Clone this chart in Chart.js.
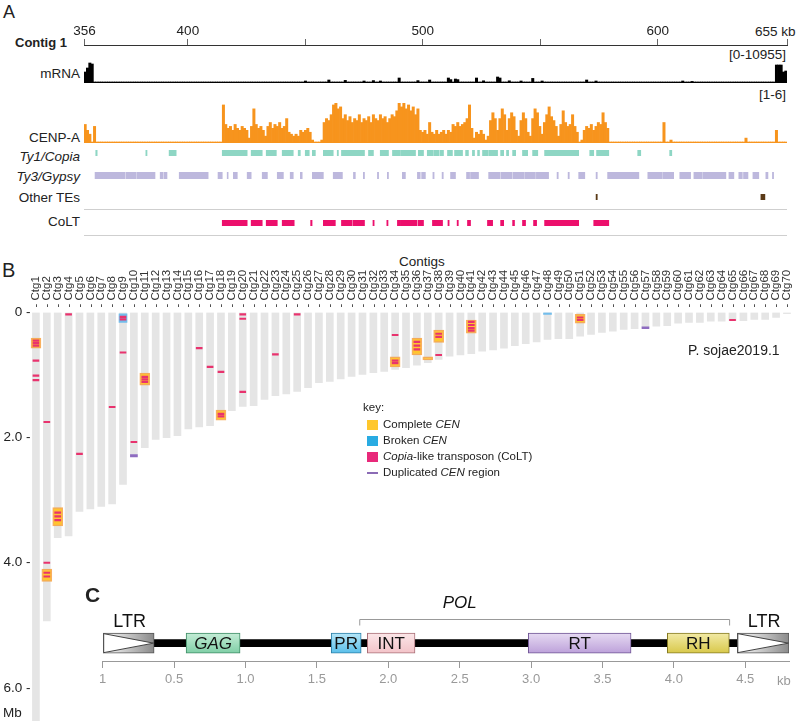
<!DOCTYPE html>
<html>
<head>
<meta charset="utf-8">
<script src="https://cdn.jsdelivr.net/npm/chart.js@4.4.1/dist/chart.umd.min.js"></script>
<style>
body{margin:0;background:#fff;font-family:'Liberation Sans',Arial,sans-serif;color:#222}
#wrap{position:relative;width:800px;height:721px;overflow:hidden}
#wrap canvas{position:absolute}
.t{position:absolute;white-space:nowrap;line-height:1}
.sep{position:absolute;left:84px;width:703px;height:1px;background:#cfcfcf}
.sw{position:absolute;width:11px;height:10px}
</style>
</head>
<body>
<div id="wrap">
  <!-- panel A labels -->
  <div class="t" style="left:3px;top:3px;font-size:18px">A</div>
  <div class="t" style="left:15px;top:36px;font-size:13px;font-weight:bold">Contig 1</div>
  <div class="t" style="left:755px;top:25px;font-size:13.5px">655 kb</div>
  <div class="t" style="right:720px;top:67px;font-size:13.5px">mRNA</div>
  <div class="t" style="right:14px;top:48px;font-size:13.5px">[0-10955]</div>
  <div class="t" style="right:14px;top:88px;font-size:13.5px">[1-6]</div>
  <div class="t" style="right:720px;top:131px;font-size:13.5px">CENP-A</div>
  <div class="t" style="right:720px;top:150px;font-size:13.5px;font-style:italic">Ty1/Copia</div>
  <div class="t" style="right:720px;top:170px;font-size:13.5px;font-style:italic">Ty3/Gypsy</div>
  <div class="t" style="right:720px;top:191px;font-size:13.5px">Other TEs</div>
  <div class="t" style="right:720px;top:215px;font-size:13.5px">CoLT</div>
  <div class="sep" style="top:209px"></div>
  <div class="sep" style="top:235px"></div>

  <canvas id="ruler" width="800" height="32" style="left:0;top:14px"></canvas>
  <canvas id="mrna" width="703" height="21" style="left:84px;top:62px"></canvas>
  <canvas id="cenpa" width="703" height="40" style="left:84px;top:103px"></canvas>
  <canvas id="ty1" width="703" height="6" style="left:84px;top:150px"></canvas>
  <canvas id="ty3" width="703" height="7" style="left:84px;top:172px"></canvas>
  <canvas id="other" width="703" height="6" style="left:84px;top:194px"></canvas>
  <canvas id="colt" width="703" height="6" style="left:84px;top:220px"></canvas>

  <!-- panel B -->
  <div class="t" style="left:2px;top:260px;font-size:20px">B</div>
  <div class="t" style="left:399px;top:255px;font-size:13.5px">Contigs</div>
  <canvas id="contigs" width="800" height="471" style="left:0;top:250px"></canvas>
  <div class="t" style="left:3px;top:706px;font-size:13.5px">Mb</div>
  <div class="t" style="left:688px;top:343px;font-size:14px">P. sojae2019.1</div>

  <div class="t" style="left:363px;top:402px;font-size:11.5px">key:</div>
  <div class="sw" style="left:367px;top:420px;background:#FFC72C"></div>
  <div class="t" style="left:383px;top:419px;font-size:11.5px">Complete <i>CEN</i></div>
  <div class="sw" style="left:367px;top:436px;background:#29ABE2"></div>
  <div class="t" style="left:383px;top:435px;font-size:11.5px">Broken <i>CEN</i></div>
  <div class="sw" style="left:367px;top:452px;background:#E8297A"></div>
  <div class="t" style="left:383px;top:451px;font-size:11.5px"><i>Copia</i>-like transposon (CoLT)</div>
  <div class="sw" style="left:367px;top:472px;height:2px;background:#8B6BB5"></div>
  <div class="t" style="left:383px;top:467px;font-size:11.5px">Duplicated <i>CEN</i> region</div>

  <!-- panel C -->
  <div class="t" style="left:85px;top:584px;font-size:21px;font-weight:bold">C</div>
  <canvas id="tegene" width="800" height="103" style="left:0;top:588px"></canvas>
  <div class="t" style="left:777px;top:674px;font-size:13px;color:#999">kb</div>
</div>

<script>
const FONT = "'Liberation Sans', Arial, sans-serif";

// ---------------- panel A: contig 1 browser view ----------------
const kbStart = 356;
const kbEnd = 655;
const rulerTicks = [356, 400, 450, 500, 550, 600, 655];
const rulerLabels = ['356', '400', '', '500', '', '600', ''];

// mRNA coverage, peaks per kb bin (relative to 10955)
const mrnaPeaks = [
  [356, 0.5], [357, 0.7], [358, 0.95], [359, 0.9],
  [450, 0.05], [460, 0.1], [467, 0.08], [475, 0.05], [479, 0.07], [482, 0.05], [490, 0.2],
  [498, 0.07], [503, 0.1], [511, 0.2], [512, 0.12], [514, 0.15], [515, 0.12],
  [523, 0.2], [526, 0.06], [532, 0.25], [533, 0.2], [537, 0.06], [542, 0.05],
  [547, 0.18], [551, 0.05], [570, 0.1], [574, 0.05], [611, 0.05], [615, 0.03],
  [651, 0.85], [652, 0.85], [653, 0.85], [654, 0.5], [655, 0.55]
];

// CENP-A ChIP coverage, 1 kb bins from 356 to 655 (scale 1-6 -> 0-1)
const cenpa = [
  0.45,0.3,0.2,0,0.4,0,0,0,0,0,
  0,0,0,0,0,0,0,0,0,0,
  0,0,0,0,0,0,0,0,0,0,
  0,0,0,0,0,0,0,0,0,0,
  0,0,0,0,0,0,0,0,0,0,
  0,0,0,0,0,0,0,0,0,0.95,
  0.45,0.35,0.4,0.3,0.45,0.35,0.3,0.4,0.35,0.3,
  0.1,0.4,0.85,0.45,0.35,0.4,0.3,0.15,0.4,0.5,
  0.35,0.45,0.4,0.5,0.35,0.4,0.6,0.25,0.2,0.15,
  0.2,0.15,0.3,0.25,0.3,0.35,0.25,0.05,0,0,
  0,0.05,0.5,0.6,0.55,0.7,0.95,1.0,0.85,0.9,
  0.6,0.7,0.55,0.65,0.5,0.6,0.55,0.7,0.5,0.6,
  0.55,0.65,0.5,0.7,0.6,0.55,0.7,0.6,0.65,0.5,
  0.6,0.7,0.65,0.8,1.0,0.9,1.0,0.85,0.95,0.8,
  0.9,0.7,0.85,0.3,0.25,0.3,0.2,0.5,0.25,0.2,
  0.3,0.2,0.25,0.3,0.2,0.3,0.25,0.45,0.4,0.5,
  0.4,0.45,0.5,0.6,0.95,0.35,0.1,0.25,0.2,0.3,
  0.2,0.05,0.15,0.55,0.75,0.6,0.3,0.6,0.85,0.7,
  0.3,0.6,0.75,0.65,0.3,0.15,0.55,0.75,0.6,0.25,
  0.15,0.6,0.85,0.75,0.4,0.2,0.5,0.7,0.9,0.65,
  0.55,0.4,0.15,0.45,0.8,0.5,0.4,0.45,0.7,0.4,
  0.25,0,0.05,0.3,0.4,0.35,0.45,0.3,0.4,0.5,
  0.45,0.75,0.5,0.35,0,0,0,0,0,0,
  0,0,0,0,0,0,0,0,0,0,
  0,0,0,0,0,0,0,0.5,0,0,
  0.05,0,0,0,0,0,0,0,0,0,
  0,0,0,0,0,0,0,0,0,0,
  0,0,0,0,0,0,0,0,0,0,
  0,0,0.1,0,0,0,0,0,0,0,
  0,0,0,0,0,0.3,0,0,0,0
];

// transposon annotations, [start, end] in kb
const ty1Copia = [[361,361.6],[382.3,382.8],[392.2,395.2],[414.8,425.4],[427.1,431.8],[433.5,437.8],[440.3,445],
  [447.1,448],[450.1,451.8],[453.1,454.4],[457.8,462],[463.7,464.2],[465.5,475.3],[477,479.1],[482,485.5],
  [487.2,490.6],[490.9,497],[498.2,500.4],[502,504.5],[504.8,507],[507.4,508.9],[510.6,512.7],[513.6,517],
  [518.3,519.5],[521.2,522.1],[523.4,524.2],[525.5,528],[528.4,531.9],[533.2,534.5],[535.7,536.6],[538.3,539.6],
  [542.5,544.7],[546.8,549],[551.9,566.4],[571.1,572.8],[574,579.2],[591.5,592.8],[605.1,606]];
const ty3Gypsy = [[360.7,373.5],[373.9,378],[378.4,386.2],[388.4,389.6],[390,391.3],[396.5,408.8],[413,414.8],
  [416.9,417.3],[419.5,421.2],[425.4,427.1],[431.8,434],[438.2,440.8],[443.7,445],[448,448.8],[453.1,457.8],
  [462,465.9],[470.6,471.4],[474.8,475.3],[480.8,481.3],[485,485.5],[491.4,492.7],[497.8,499],[499.6,501.2],
  [504.4,504.9],[508.3,508.8],[511.9,514],[518.7,520],[520.4,523.8],[528.1,533],[533.4,538],[538.4,543],
  [543.4,548],[548.4,553.6],[557.2,557.7],[561.9,562.4],[566.4,569],[573.8,574.3],[578.7,592],[595.8,602],
  [602.4,606.8],[609.4,614],[615.4,619],[619.4,629],[630.3,632.4],[634.5,636],[636.5,638.4],[640.5,643],
  [646,646.9],[648.8,649.3]];
const otherTEs = [[573.8,574.3],[643.9,645.6]];
const coltTrack = [[414.8,425.4],[427.1,431.8],[433.5,438.2],[440.3,445.4],[452.4,453],[457.8,462.9],[465.5,470],
  [470.4,475.3],[478.9,479.4],[484.8,485.3],[489.3,490.6],[490.6,497.5],[498,500.4],[504.2,508.5],[510.8,511.3],
  [514.7,515.2],[519.1,520.4],[527.6,529.8],[533.2,534.5],[538.3,539.1],[542.5,543.8],[547.2,548.5],
  [551.9,566.4],[572.8,579.2]];

// ---------------- panel B: contig lengths (Mb) ----------------
const ctgLengths = [6.9,4.93,3.6,3.57,3.18,3.14,3.1,3.06,2.75,2.3,
  2.16,2.03,2.0,1.97,1.86,1.83,1.81,1.69,1.57,1.5,
  1.49,1.39,1.33,1.3,1.26,1.2,1.12,1.1,1.06,1.02,
  0.99,0.96,0.94,0.91,0.88,0.84,0.8,0.75,0.7,0.68,
  0.66,0.62,0.6,0.57,0.53,0.5,0.47,0.43,0.42,0.42,
  0.38,0.35,0.32,0.3,0.27,0.26,0.24,0.22,0.21,0.17,
  0.16,0.16,0.14,0.14,0.13,0.13,0.11,0.11,0.08,0.02];
const ctgNames = ctgLengths.map((v, i) => 'Ctg' + (i + 1));
const yTicksB = [0, 2, 4, 6];
const yLabelsB = ['0 -', '2.0 -', '4.0 -', '6.0 -'];

// [contig, start Mb, end Mb]
const cenComplete = [['Ctg1',0.41,0.57],['Ctg2',4.1,4.3],['Ctg3',3.12,3.41],['Ctg11',0.97,1.16],['Ctg18',1.56,1.72],
  ['Ctg34',0.71,0.87],['Ctg36',0.41,0.68],['Ctg37',0.71,0.76],['Ctg38',0.28,0.48],['Ctg41',0.12,0.33],['Ctg51',0.03,0.17]];
const cenBroken = [['Ctg9',0.02,0.16],['Ctg48',0.0,0.03]];
const cenDuplicated = [['Ctg10',2.27,2.31],['Ctg57',0.23,0.26]];
// [contig, position Mb]
const coltMarks = [['Ctg1',0.45],['Ctg1',0.49],['Ctg1',0.53],['Ctg1',0.77],['Ctg1',1.01],['Ctg1',1.08],
  ['Ctg2',1.75],['Ctg2',4.0],['Ctg2',4.16],['Ctg2',4.22],['Ctg3',3.2],['Ctg3',3.26],['Ctg3',3.32],
  ['Ctg4',0.03],['Ctg5',2.26],['Ctg8',1.51],['Ctg9',0.07],['Ctg9',0.11],['Ctg9',0.64],['Ctg10',2.07],
  ['Ctg11',1.03],['Ctg11',1.07],['Ctg11',1.11],['Ctg16',0.57],['Ctg17',0.87],['Ctg18',0.95],['Ctg18',1.62],['Ctg18',1.66],
  ['Ctg20',0.03],['Ctg20',0.1],['Ctg20',1.27],['Ctg23',0.67],['Ctg25',0.03],['Ctg34',0.36],['Ctg34',0.77],['Ctg34',0.81],
  ['Ctg36',0.47],['Ctg36',0.53],['Ctg36',0.59],['Ctg38',0.34],['Ctg38',0.39],['Ctg38',0.68],
  ['Ctg41',0.15],['Ctg41',0.2],['Ctg41',0.25],['Ctg41',0.29],['Ctg51',0.08],['Ctg51',0.12],['Ctg65',0.12]];

// ---------------- panel C: CoLT element structure (kb) ----------------
const domainNames = ['LTR', 'GAG', 'PR', 'INT', 'RT', 'RH', 'LTR'];
const domainStart = [0, 0.584, 1.6, 1.853, 2.98, 3.954, 4.444];
const domainEnd = [0.36, 0.962, 1.81, 2.187, 3.7, 4.388, 4.806];
const domainColors = ['#8a8a8a', '#7FCFA6', '#59BFEA', '#F3C3C8', '#BDA1DA', '#D8C84A', '#8a8a8a'];
const domainLight = ['#ffffff', '#C4ECD6', '#B6E6F8', '#FBE6E8', '#E6DAF2', '#F2EAA6', '#ffffff'];
const domainBorders = ['#555', '#3F8C66', '#2C7FA8', '#A86F77', '#6E5494', '#857A22', '#555'];
const backbone = [0.36, 4.444];
const polSpan = [1.8, 4.39];
const polLabelAt = 2.5;
const cTickLabels = ['1', '0.5', '1.0', '1.5', '2.0', '2.5', '3.0', '3.5', '4.0', '4.5'];
const cMax = 4.806;

const baseOpts = {
  responsive: false, animation: false, events: [], devicePixelRatio: 1,
  plugins: { legend: { display: false }, tooltip: { enabled: false } }
};

// ruler
new Chart(document.getElementById('ruler'), {
  type: 'line',
  data: { datasets: [{ data: [] }] },
  options: Object.assign({}, baseOpts, {
    layout: { padding: { left: 84.5, right: 13, top: 0, bottom: 0 } },
    scales: {
      x: {
        type: 'linear', position: 'top', min: kbStart, max: kbEnd,
        afterBuildTicks: s => { s.ticks = rulerTicks.map(v => ({ value: v })); },
        afterFit: s => { s.height = 31; },
        ticks: { autoSkip: false, maxRotation: 0, padding: 0, color: '#222', font: { family: FONT, size: 13.5 },
          callback: (v, i) => rulerLabels[i] },
        grid: { drawOnChartArea: false, drawTicks: true, tickLength: 6, color: '#666' },
        border: { color: '#333', width: 1 }
      },
      y: { display: false }
    }
  })
});

// coverage tracks
const kbBins = cenpa.map((v, i) => kbStart + i);
const mrna = kbBins.map(k => { const p = mrnaPeaks.find(q => q[0] === k); return p ? p[1] : 0; });

function coverageTrack(id, values, color) {
  new Chart(document.getElementById(id), {
    type: 'bar',
    data: { labels: kbBins, datasets: [{ data: values, backgroundColor: color, borderWidth: 0,
      barPercentage: 1, categoryPercentage: 1 }] },
    options: Object.assign({}, baseOpts, {
      layout: { padding: { bottom: 1 } },
      scales: {
        x: { grid: { display: false, drawTicks: false }, ticks: { display: false },
          border: { display: true, color: color, width: 1 } },
        y: { display: false, min: 0, max: 1 }
      }
    })
  });
}
coverageTrack('mrna', mrna, '#000000');
coverageTrack('cenpa', cenpa, '#F7941D');

function featureTrack(id, intervals, color) {
  new Chart(document.getElementById(id), {
    type: 'bar',
    data: { labels: ['t'], datasets: [{ data: intervals.map(iv => ({ y: 't', x: iv })), backgroundColor: color,
      borderWidth: 0, barPercentage: 1, categoryPercentage: 1 }] },
    options: Object.assign({}, baseOpts, {
      indexAxis: 'y',
      scales: { x: { type: 'linear', min: kbStart, max: kbEnd, display: false }, y: { display: false } }
    })
  });
}
featureTrack('ty1', ty1Copia, '#8ED6C4');
featureTrack('ty3', ty3Gypsy, '#BDB8DD');
featureTrack('other', otherTEs, '#5B3A17');
featureTrack('colt', coltTrack, '#EC0F6C');

// ---------------- panel B chart ----------------
const spanData = arr => arr.map(r => ({ x: r[0], y: [r[1], r[2]] }));
new Chart(document.getElementById('contigs'), {
  type: 'bar',
  data: {
    labels: ctgNames,
    datasets: [
      { data: coltMarks.map(r => ({ x: r[0], y: [r[1] - 0.012, r[1] + 0.012] })), backgroundColor: '#E8336E',
        barThickness: 6, grouped: false, borderWidth: 0 },
      { data: spanData(cenDuplicated), backgroundColor: '#8E6CC0', barThickness: 7, grouped: false, borderWidth: 0 },
      { data: spanData(cenComplete), backgroundColor: '#FFC52E', borderColor: 'rgba(247,150,40,0.75)',
        borderWidth: 1.5, borderSkipped: false, barThickness: 10, grouped: false },
      { data: spanData(cenBroken), backgroundColor: '#72BDEB', barThickness: 8, grouped: false, borderWidth: 0 },
      { data: ctgLengths, backgroundColor: '#E5E5E5', barThickness: 7, grouped: false, borderWidth: 0 }
    ]
  },
  options: Object.assign({}, baseOpts, {
    layout: { padding: { left: 0, right: 7.6, top: 0, bottom: 0 } },
    scales: {
      x: {
        position: 'top',
        afterFit: s => { s.height = 62.5; s.paddingLeft = 0; s.paddingRight = 0; },
        grid: { display: false, drawTicks: false }, border: { display: false },
        ticks: { autoSkip: false, minRotation: 90, maxRotation: 90, padding: 5, labelOffset: 13.8, color: '#333',
          font: { family: FONT, size: 11.5 },
          callback: function (v) { return '- ' + this.getLabelForValue(v); } }
      },
      y: {
        reverse: true, min: 0, max: 6.53,
        afterBuildTicks: s => { s.ticks = yTicksB.map(v => ({ value: v })); },
        afterFit: s => { s.width = 30.5; s.paddingTop = 0; s.paddingBottom = 0; },
        grid: { display: false, drawTicks: false }, border: { display: false },
        ticks: { padding: 0, color: '#222', font: { family: FONT, size: 13.5 }, callback: (v, i) => yLabelsB[i] }
      }
    }
  })
});

// ---------------- panel C chart ----------------
const geneDecor = {
  id: 'geneDecor',
  afterDatasetsDraw(chart) {
    const c = chart.ctx;
    const xs = chart.scales.x;
    const meta = chart.getDatasetMeta(0);
    c.save();
    meta.data.forEach((el, i) => {
      const p = el.getProps(['x', 'base', 'y', 'height'], true);
      const l = Math.min(p.x, p.base), r = Math.max(p.x, p.base);
      const top = p.y - p.height / 2, bot = p.y + p.height / 2;
      if (domainNames[i] === 'LTR') {
        c.beginPath();
        c.moveTo(l + 0.5, top + 0.5);
        c.lineTo(r - 0.5, p.y);
        c.lineTo(l + 0.5, bot - 0.5);
        c.closePath();
        c.fillStyle = '#fff';
        c.fill();
        c.strokeStyle = '#444';
        c.lineWidth = 1;
        c.stroke();
        c.fillStyle = '#111';
        c.font = '18px ' + FONT;
        c.textAlign = 'center';
        c.textBaseline = 'middle';
        c.fillText('LTR', (l + r) / 2 + 1, top - 11);
      } else {
        c.fillStyle = '#111';
        c.font = (domainNames[i] === 'GAG' ? 'italic ' : '') + '17px ' + FONT;
        c.textAlign = 'center';
        c.textBaseline = 'middle';
        c.fillText(domainNames[i], (l + r) / 2, p.y + 1);
      }
    });
    // POL bracket
    const x0 = xs.getPixelForValue(polSpan[0]), x1 = xs.getPixelForValue(polSpan[1]);
    const yb = Math.round(meta.data[0].y - 24) + 0.5;
    c.beginPath();
    c.moveTo(x0, yb + 6); c.lineTo(x0, yb); c.lineTo(x1, yb); c.lineTo(x1, yb + 6);
    c.strokeStyle = '#999'; c.lineWidth = 1; c.stroke();
    c.fillStyle = '#111';
    c.font = 'italic 17px ' + FONT;
    c.textAlign = 'center';
    c.textBaseline = 'middle';
    c.fillText('POL', xs.getPixelForValue(polLabelAt), yb - 16);
    c.restore();
  }
};

function domainFill(ctx) {
  const chart = ctx.chart;
  const i = ctx.dataIndex;
  if (!chart.chartArea) return domainColors[i];
  const xs = chart.scales.x;
  const cy = (chart.chartArea.top + chart.chartArea.bottom) / 2;
  let g;
  if (domainNames[i] === 'LTR') {
    g = chart.ctx.createLinearGradient(xs.getPixelForValue(domainStart[i]), 0, xs.getPixelForValue(domainEnd[i]), 0);
  } else {
    g = chart.ctx.createLinearGradient(0, cy - 10, 0, cy + 10);
  }
  g.addColorStop(0, domainLight[i]);
  g.addColorStop(1, domainColors[i]);
  return g;
}

new Chart(document.getElementById('tegene'), {
  type: 'bar',
  data: {
    labels: ['CoLT'],
    datasets: [
      { data: domainStart.map((s, i) => ({ y: 'CoLT', x: [s, domainEnd[i]] })), backgroundColor: domainFill,
        borderColor: domainBorders, borderWidth: 1, borderSkipped: false, barThickness: 20, grouped: false },
      { data: [{ y: 'CoLT', x: backbone }], backgroundColor: '#000', borderWidth: 0, barThickness: 7, grouped: false }
    ]
  },
  options: Object.assign({}, baseOpts, {
    indexAxis: 'y',
    layout: { padding: { left: 102.7, right: 11, top: 37.3, bottom: 0 } },
    scales: {
      x: {
        type: 'linear', min: 0, max: cMax,
        afterFit: s => { s.height = 30; },
        ticks: { stepSize: 0.5, includeBounds: false, padding: 4, color: '#999', font: { family: FONT, size: 13 },
          callback: (v, i) => cTickLabels[i] },
        grid: { drawOnChartArea: false, drawTicks: true, tickLength: 7, color: '#999' },
        border: { color: '#999', width: 1 }
      },
      y: { display: false }
    }
  }),
  plugins: [geneDecor]
});
</script>
</body>
</html>
